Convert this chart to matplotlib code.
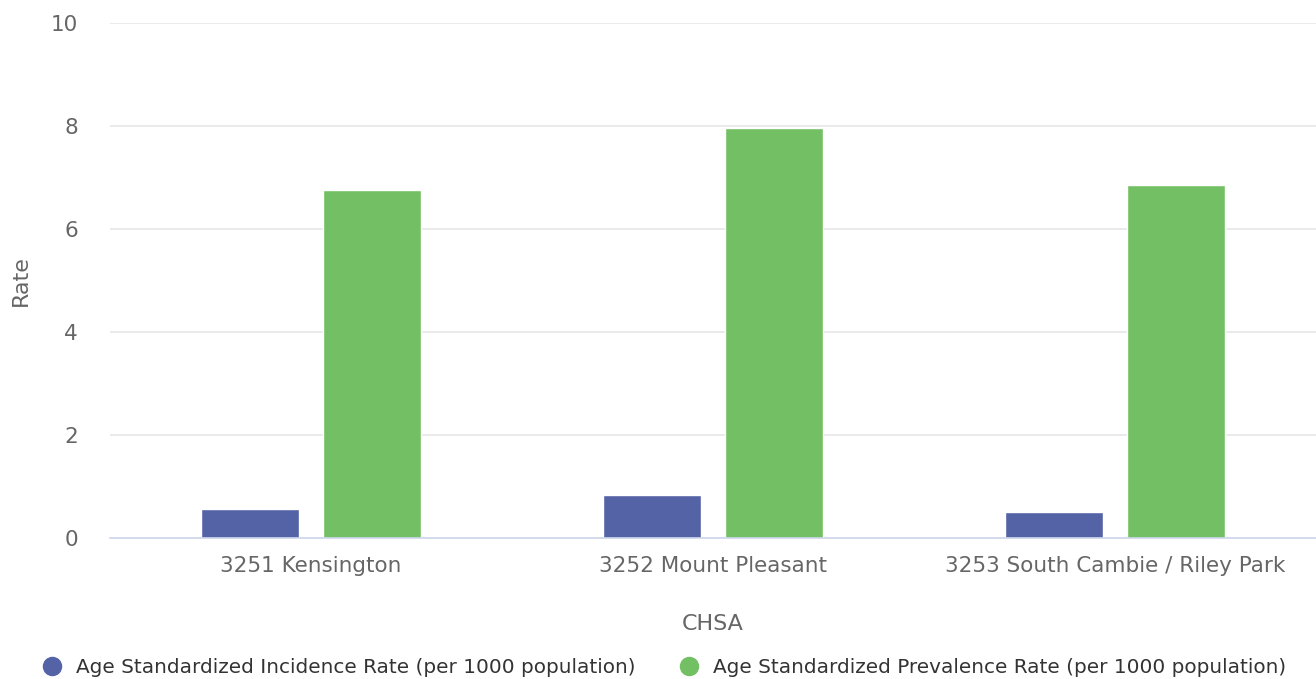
import numpy as np
import matplotlib
matplotlib.use('Agg')
import matplotlib.pyplot as plt
from matplotlib.lines import Line2D

categories = ['3251 Kensington', '3252 Mount Pleasant', '3253 South Cambie / Riley Park']
incidence = [0.57, 0.83, 0.50]
prevalence = [6.76, 7.97, 6.87]
series_names = ['Age Standardized Incidence Rate (per 1000 population)',
                'Age Standardized Prevalence Rate (per 1000 population)']
colors = ['#5463a6', '#72c063']

fig = plt.figure(figsize=(13.16, 6.79), dpi=100)
ax = fig.add_axes([0.0836, 0.2077, 0.9164, 0.7577])

x = np.arange(len(categories))
w = 0.245
ax.bar(x - 0.152, incidence, w, color=colors[0], edgecolor='white', linewidth=1, zorder=3)
ax.bar(x + 0.152, prevalence, w, color=colors[1], edgecolor='white', linewidth=1, zorder=3)

ax.set_xlim(-0.5, 2.5)
ax.set_ylim(0, 10)
ax.set_yticks([0, 2, 4, 6, 8, 10])
ax.set_xticks(x)
ax.set_xticklabels(categories)
ax.grid(axis='y', color='#e6e6e6', linewidth=1.2, zorder=0)
ax.tick_params(axis='both', length=0, labelsize=15.5, colors='#666666')
ax.tick_params(axis='y', pad=23)
ax.tick_params(axis='x', pad=13)
for s in ['top', 'right', 'left']:
    ax.spines[s].set_visible(False)
ax.spines['bottom'].set_color('#ccd6eb')
ax.spines['bottom'].set_linewidth(1.2)
ax.spines['bottom'].set_zorder(4)

ax.set_ylabel('Rate', fontsize=16, color='#666666')
ax.yaxis.set_label_coords(-0.066, 0.5)
ax.set_xlabel('CHSA', fontsize=16, color='#666666', labelpad=27)

handles = [Line2D([], [], marker='o', linestyle='none', markersize=13, color=c) for c in colors]
fig.legend(handles, series_names, loc='center', bbox_to_anchor=(0.5045, 0.017), ncol=2,
           frameon=False, fontsize=14.4, labelcolor='#333333', handlelength=1.0,
           handletextpad=0.7, columnspacing=2.2)

fig.savefig('out.png', dpi=100)
